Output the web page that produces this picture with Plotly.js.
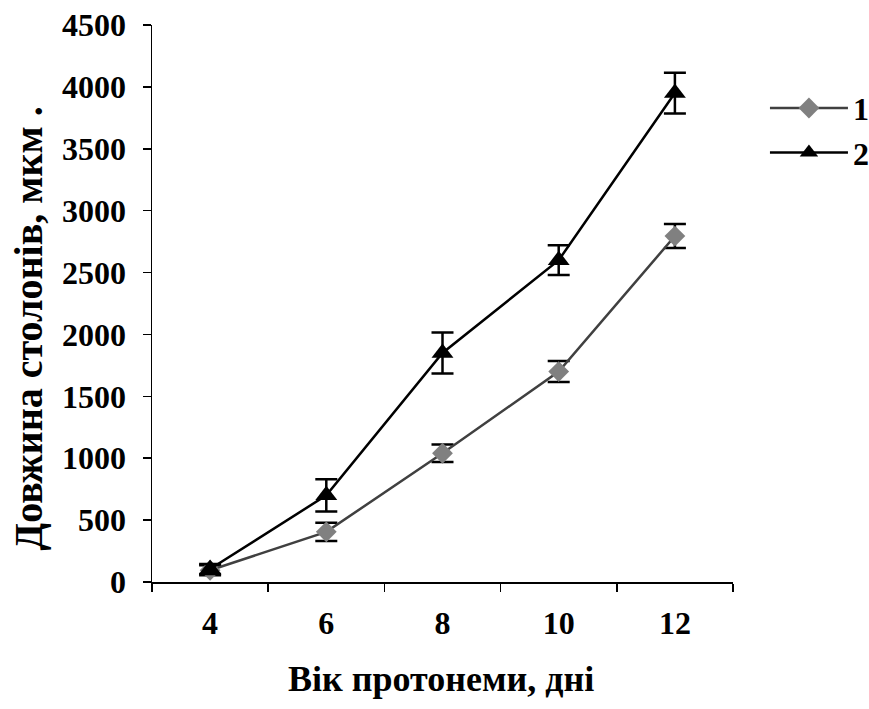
<!DOCTYPE html>
<html>
<head>
<meta charset="utf-8">
<script src="https://cdn.plot.ly/plotly-3.0.1.min.js"></script>
<style>html,body{margin:0;padding:0;background:#fff;}#chart{width:869px;height:709px;}</style>
</head>
<body>
<div id="chart"></div>
<script>
const categories = ["4", "6", "8", "10", "12"];
const series1 = [95, 405, 1040, 1700, 2795];
const series1Err = [40, 73, 70, 85, 97];
const series2 = [105, 700, 1850, 2600, 3950];
const series2Err = [40, 130, 165, 120, 165];
const seriesNames = ["1", "2"];
const yTitle = "Довжина столонів, мкм .";
const xTitle = "Вік протонеми, дні";

const fontFam = '"Liberation Serif", "Times New Roman", serif';

const traces = [
  {
    x: categories, y: series1, name: seriesNames[0], type: 'scatter', mode: 'lines+markers',
    line: {color: '#404040', width: 2.5},
    marker: {symbol: 'diamond', size: 16, color: '#808080'},
    error_y: {type: 'data', array: series1Err, visible: true, color: '#000', thickness: 2.5, width: 11}
  },
  {
    x: categories, y: series2, name: seriesNames[1], type: 'scatter', mode: 'lines+markers',
    line: {color: '#000', width: 2.5},
    marker: {symbol: 'triangle-up', size: 19, color: '#000'},
    error_y: {type: 'data', array: series2Err, visible: true, color: '#000', thickness: 2.5, width: 11}
  }
];

const layout = {
  width: 869, height: 709,
  margin: {l: 152, r: 136, t: 25, b: 127, autoexpand: false},
  paper_bgcolor: '#fff', plot_bgcolor: '#fff',
  font: {family: fontFam, color: '#000', size: 32},
  showlegend: true,
  legend: {x: 1.055, y: 0.9, xanchor: 'left', yanchor: 'top', itemwidth: 78,
           font: {family: fontFam, size: 32, color: '#000', weight: 'bold'},
           bgcolor: 'rgba(0,0,0,0)', tracegroupgap: 0},
  xaxis: {
    type: 'category', range: [-0.5, 4.5], tickson: 'boundaries',
    showline: true, linecolor: '#000', linewidth: 1.5,
    ticks: 'outside', ticklen: 8, tickwidth: 1.5, tickcolor: '#000',
    showgrid: false, zeroline: false,
    tickfont: {family: fontFam, size: 32, color: '#000', weight: 'bold'},
    ticklabelstandoff: 12,
    fixedrange: true
  },
  yaxis: {
    range: [0, 4500], dtick: 500, tick0: 0,
    showline: true, linecolor: '#000', linewidth: 1.5,
    ticks: 'outside', ticklen: 8, tickwidth: 1.5, tickcolor: '#000',
    showgrid: false, zeroline: false,
    tickfont: {family: fontFam, size: 32, color: '#000', weight: 'bold'},
    ticklabelstandoff: 10,
    fixedrange: true
  },
  annotations: [
    {text: yTitle, xref: 'paper', yref: 'paper', x: -0.212, y: 0.455,
     xanchor: 'center', yanchor: 'middle', textangle: -90, showarrow: false,
     font: {family: fontFam, size: 40, color: '#000', weight: 'bold'}},
    {text: xTitle, xref: 'paper', yref: 'paper', x: 0.497, y: -0.175,
     xanchor: 'center', yanchor: 'middle', showarrow: false,
     font: {family: fontFam, size: 36, color: '#000', weight: 'bold'}}
  ]
};

Plotly.newPlot('chart', traces, layout, {displayModeBar: false, staticPlot: true});
</script>
</body>
</html>
